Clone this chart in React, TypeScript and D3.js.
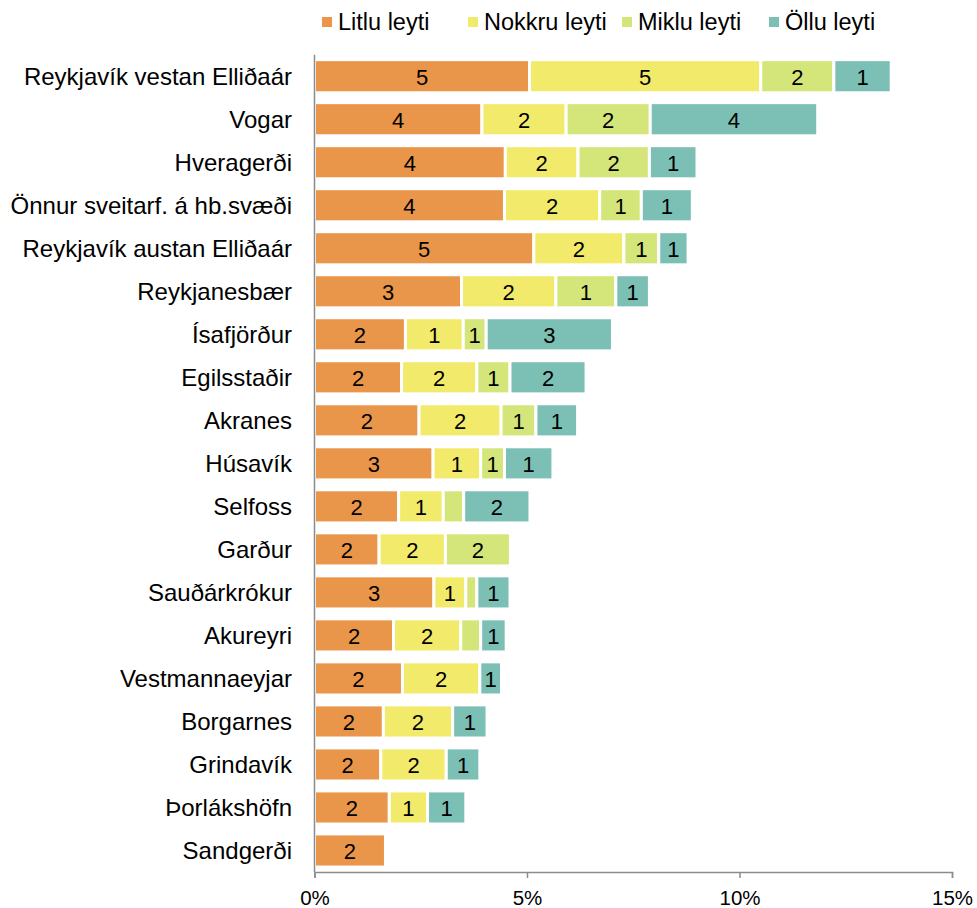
import React, { FC, useEffect, useRef, useMemo } from 'react'
import * as d3 from 'd3'

const categories = [
	'Reykjavík vestan Elliðaár',
	'Vogar',
	'Hveragerði',
	'Önnur sveitarf. á hb.svæði',
	'Reykjavík austan Elliðaár',
	'Reykjanesbær',
	'Ísafjörður',
	'Egilsstaðir',
	'Akranes',
	'Húsavík',
	'Selfoss',
	'Garður',
	'Sauðárkrókur',
	'Akureyri',
	'Vestmannaeyjar',
	'Borgarnes',
	'Grindavík',
	'Þorlákshöfn',
	'Sandgerði'
]

const seriesNames = ['Litlu leyti', 'Nokkru leyti', 'Miklu leyti', 'Öllu leyti']
const seriesColors = ['#E9964A', '#F2EA6A', '#D4E57A', '#7BBFB5']

const litlu = [5.06, 3.94, 4.49, 4.47, 5.16, 3.46, 2.14, 2.05, 2.46, 2.79, 1.98, 1.52, 2.81, 1.86, 2.07, 1.62, 1.56, 1.76, 1.67]
const nokkru = [5.44, 1.98, 1.71, 2.24, 2.12, 2.22, 1.36, 1.77, 1.93, 1.12, 1.05, 1.56, 0.75, 1.58, 1.82, 1.63, 1.54, 0.9, 0]
const miklu = [1.72, 1.98, 1.68, 0.98, 0.82, 1.41, 0.54, 0.78, 0.82, 0.56, 0.48, 1.53, 0.26, 0.47, 0, 0, 0, 0, 0]
const ollu = [1.35, 3.94, 1.12, 1.2, 0.69, 0.79, 2.97, 1.79, 0.98, 1.14, 1.56, 0, 0.78, 0.6, 0.51, 0.81, 0.79, 0.9, 0]

const xTicks = [0, 5, 10, 15]

const WIDTH = 977
const HEIGHT = 908
const FONT = 'Liberation Sans, Arial, sans-serif'

const App: FC = () => {
	const xAxis = useRef<SVGGElement>(null)

	const rows = useMemo(() => {
		return categories.map((name, i) => ({
			name,
			[seriesNames[0]]: litlu[i],
			[seriesNames[1]]: nokkru[i],
			[seriesNames[2]]: miklu[i],
			[seriesNames[3]]: ollu[i]
		}))
	}, [])

	const stacked = useMemo(() => {
		return d3.stack<any>().keys(seriesNames)(rows)
	}, [rows])

	const xScale = useMemo(() => {
		return d3.scaleLinear().domain([0, 15]).range([314.5, 952])
	}, [])

	const yScale = useMemo(() => {
		return d3
			.scaleBand()
			.domain(categories)
			.range([54.7, 872])
			.paddingInner(0.23)
			.paddingOuter(0.115)
	}, [])

	useEffect(() => {
		if (xAxis.current) {
			const axis = d3
				.axisBottom(xScale)
				.tickValues(xTicks)
				.tickSize(6)
				.tickFormat((d) => `${d}%`)
			const g = d3.select(xAxis.current)
			g.call(axis)
			g.select('.domain').attr('stroke', '#8c8c8c').attr('stroke-width', 1.5)
			g.selectAll('.tick line').attr('stroke', '#8c8c8c').attr('stroke-width', 1.5)
			g.selectAll('.tick text')
				.attr('fill', '#000')
				.attr('font-size', 20.5)
				.attr('font-family', FONT)
				.attr('dy', null)
				.attr('y', 25)
				.attr('dominant-baseline', 'central')
		}
	}, [])

	// legend item offsets (square left edge)
	const legendX = [322, 468, 622, 769]

	return (
		<svg
			width={WIDTH}
			height={HEIGHT}
			style={{ position: 'absolute', left: 0, top: 0, background: '#fff' }}
			fontFamily={FONT}
		>
			{/* legend */}
			<g>
				{seriesNames.map((name, i) => (
					<g key={name} transform={`translate(${legendX[i]}, 22)`}>
						<rect x={0} y={-5} width={10} height={10} fill={seriesColors[i]} />
						<text x={16} y={0} fontSize={23.5} dominantBaseline="central" fill="#000">
							{name}
						</text>
					</g>
				))}
			</g>

			{/* category labels */}
			<g>
				{categories.map((c) => (
					<text
						key={c}
						x={292}
						y={(yScale(c) || 0) + yScale.bandwidth() / 2}
						textAnchor="end"
						dominantBaseline="central"
						fontSize={24}
						fill="#000"
					>
						{c}
					</text>
				))}
			</g>

			{/* bars */}
			<g>
				{stacked.map((layer, si) => (
					<g key={layer.key} fill={seriesColors[si]}>
						{layer.map((d, i) => {
							const w = xScale(d[1]) - xScale(d[0])
							if (w <= 0) return null
							return (
								<rect
									key={i}
									x={xScale(d[0])}
									y={yScale(categories[i])}
									width={w}
									height={yScale.bandwidth()}
									stroke="#fff"
									strokeWidth={3}
								/>
							)
						})}
					</g>
				))}
			</g>

			{/* data labels */}
			<g>
				{stacked.map((layer) =>
					layer.map((d, i) => {
						const v = d[1] - d[0]
						if (Math.round(v) < 1) return null
						return (
							<text
								key={`${layer.key}-${i}`}
								x={xScale((d[0] + d[1]) / 2)}
								y={(yScale(categories[i]) || 0) + yScale.bandwidth() / 2 + 1}
								textAnchor="middle"
								dominantBaseline="central"
								fontSize={22}
								fill="#000"
							>
								{Math.round(v)}
							</text>
						)
					})
				)}
			</g>

			{/* vertical axis line */}
			<line x1={314.5} x2={314.5} y1={54.7} y2={872} stroke="#8c8c8c" strokeWidth={1.5} />
			<g ref={xAxis} transform={`translate(0, 872)`}></g>
		</svg>
	)
}

export default App
